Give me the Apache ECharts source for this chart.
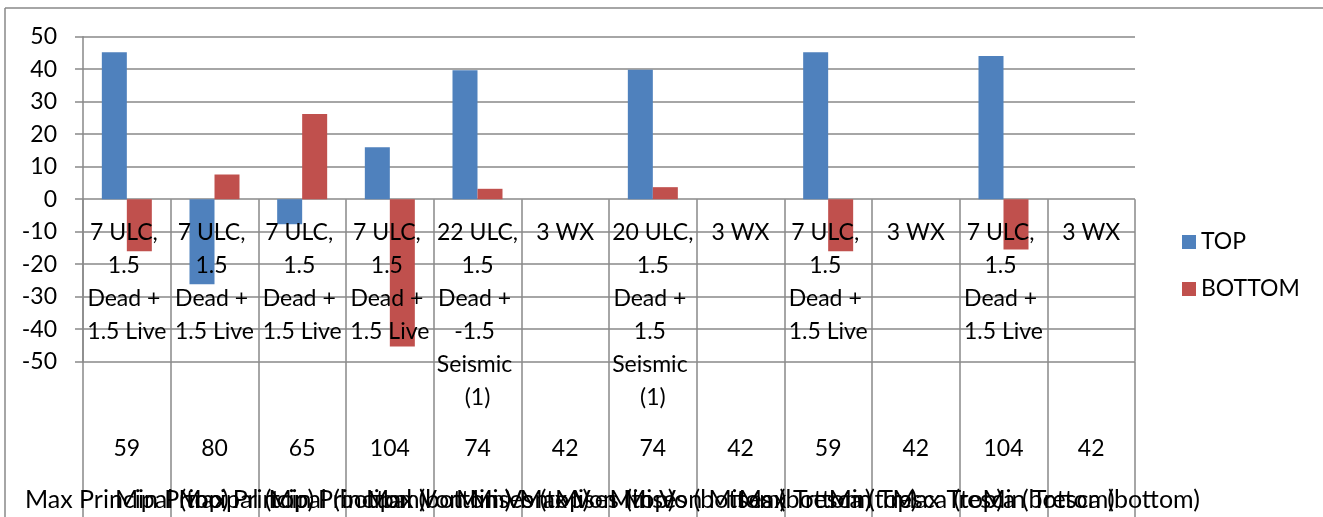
<!DOCTYPE html>
<html>
<head>
<meta charset="utf-8">
<script src="https://cdn.jsdelivr.net/npm/echarts@6/dist/echarts.min.js"></script>
<style>
  html, body { margin: 0; padding: 0; background: #fff; }
  #chart { width: 1323px; height: 517px; }
</style>
</head>
<body>
<div id="chart"></div>
<script>
// Load combination for each column (inner category level)
const loadCases = [
  "7 ULC, 1.5 Dead + 1.5 Live",
  "7 ULC, 1.5 Dead + 1.5 Live",
  "7 ULC, 1.5 Dead + 1.5 Live",
  "7 ULC, 1.5 Dead + 1.5 Live",
  "22 ULC, 1.5 Dead + -1.5 Seismic (1)",
  "3 WX",
  "20 ULC, 1.5 Dead + 1.5 Seismic (1)",
  "3 WX",
  "7 ULC, 1.5 Dead + 1.5 Live",
  "3 WX",
  "7 ULC, 1.5 Dead + 1.5 Live",
  "3 WX"
];
// Element numbers (middle category level)
const elements = ["59", "80", "65", "104", "74", "42", "74", "42", "59", "42", "104", "42"];
// Stress type (outer category level)
const stressTypes = [
  "Max Principal (top)",
  "Min Principal (top)",
  "Max Principal (bottom)",
  "Min Principal (bottom)",
  "Max Von Mises (top)",
  "Min Von Mises (top)",
  "Max Von Mises (bottom)",
  "Min Von Mises (bottom)",
  "Max Tresca (top)",
  "Min Tresca (top)",
  "Max Tresca (bottom)",
  "Min Tresca (bottom)"
];
const topValues    = [45.2, -26.2, -7.7, 16.0, 39.7, 0, 39.8, 0, 45.2, 0, 44.1, 0];
const bottomValues = [-16.0, 7.6, 26.2, -45.3, 3.2, 0, 3.7, 0, -16.0, 0, -15.5, 0];
const yTicks = { min: -50, max: 50, step: 10 };

const FONT = "Lato";
const FS = 23;
const LINE = "#898989";

const chart = echarts.init(document.getElementById("chart"), null, { renderer: "canvas" });

// plot area (pixels)
const gridTop = 36.7, gridBottomY = 361.7, gridLeft = 83, gridRight = 1135;
const zeroY = gridTop + (gridBottomY - gridTop) * (yTicks.max / (yTicks.max - yTicks.min));
const tickEnd = 517;

chart.setOption({
  animation: false,
  backgroundColor: "#fff",
  textStyle: { fontFamily: FONT },
  graphic: [
    // chart area frame (top and left edges)
    { type: "line", shape: { x1: 5, y1: 8, x2: 1323, y2: 8 }, style: { stroke: LINE, lineWidth: 1.5 }, silent: true },
    { type: "line", shape: { x1: 5, y1: 8, x2: 5, y2: 517 }, style: { stroke: LINE, lineWidth: 1.5 }, silent: true }
  ],
  legend: {
    orient: "vertical",
    left: 1177,
    top: 220,
    itemWidth: 14,
    itemHeight: 14,
    itemGap: 13,
    icon: "rect",
    textStyle: { fontFamily: FONT, fontSize: FS, color: "#000", lineHeight: 34 },
    data: ["TOP", "BOTTOM"]
  },
  grid: {
    left: gridLeft,
    top: gridTop,
    width: gridRight - gridLeft,
    height: gridBottomY - gridTop,
    containLabel: false,
    outerBoundsMode: "none"
  },
  xAxis: [
    {
      // load combinations, hung just below the zero line and drawn over the bars;
      // dividers run from zero down to the grid bottom
      type: "category",
      z: 5,
      data: loadCases,
      position: "bottom",
      axisLine: { show: false, onZero: false },
      axisTick: { show: true, inside: true, length: gridBottomY - zeroY, lineStyle: { color: LINE, width: 1.5 } },
      axisLabel: {
        interval: 0, color: "#000", fontFamily: FONT, fontSize: FS, lineHeight: 33,
        margin: (zeroY + 16.5) - gridBottomY, width: 86, overflow: "break", hideOverlap: false
      },
      splitLine: { show: false }
    },
    {
      // element numbers; dividers continue below the grid
      type: "category",
      data: elements,
      position: "bottom",
      axisLine: { show: false, onZero: false },
      axisTick: { show: true, inside: false, length: tickEnd - gridBottomY, lineStyle: { color: LINE, width: 1.5 } },
      axisLabel: { interval: 0, color: "#000", fontFamily: FONT, fontSize: FS, lineHeight: 33, margin: 70, hideOverlap: false },
      splitLine: { show: false }
    },
    {
      type: "category",
      data: stressTypes,
      position: "bottom",
      axisLine: { show: false, onZero: false },
      axisTick: { show: false },
      axisLabel: { interval: 0, color: "#000", fontFamily: FONT, fontSize: 25, lineHeight: 33, margin: 122, hideOverlap: false },
      splitLine: { show: false }
    }
  ],
  yAxis: {
    type: "value",
    min: yTicks.min,
    max: yTicks.max,
    interval: yTicks.step,
    axisLine: { show: true, lineStyle: { color: LINE, width: 1.5 } },
    axisTick: { show: true, inside: false, length: 8, lineStyle: { color: LINE, width: 1.5 } },
    axisLabel: { color: "#000", fontFamily: FONT, fontSize: FS, margin: 26 },
    splitLine: { show: true, lineStyle: { color: LINE, width: 1.5 } }
  },
  series: [
    {
      name: "TOP",
      type: "bar",
      xAxisIndex: 0,
      data: topValues,
      barWidth: 25,
      barGap: "0%",
      itemStyle: { color: "#4F81BD" }
    },
    {
      name: "BOTTOM",
      type: "bar",
      xAxisIndex: 0,
      data: bottomValues,
      barWidth: 25,
      barGap: "0%",
      itemStyle: { color: "#C0504D" }
    }
  ]
});
</script>
</body>
</html>
